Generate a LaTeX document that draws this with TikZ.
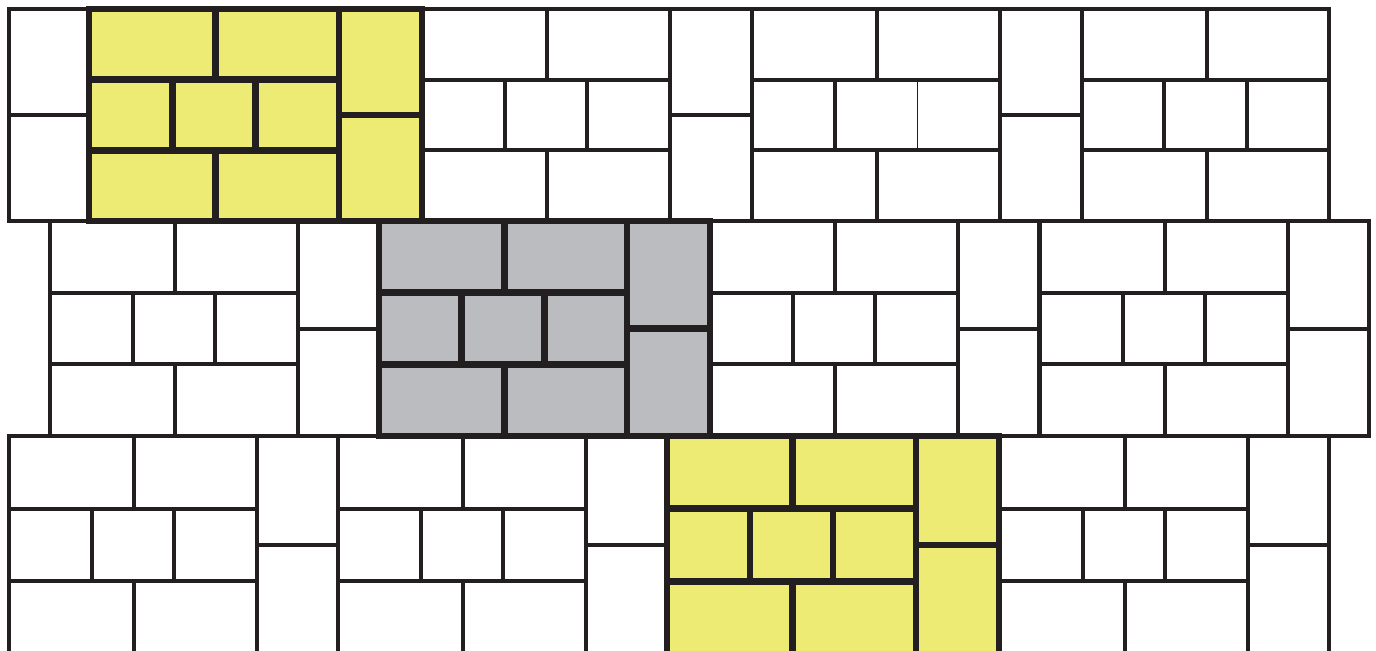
\documentclass[tikz,border=0pt]{standalone}
\usepackage{tikz}
\definecolor{brickline}{HTML}{231F20}
\definecolor{brickyellow}{HTML}{EDEB74}
\definecolor{brickgray}{HTML}{BBBCC0}

% three-course block: x left, x right, y top, y bottom ([#1] = style of last middle joint)
\newcommand{\brickblock}[5][]{%
  \draw (#2,#4) rectangle (#3,#5);
  \draw (#2,{#4+(#5-#4)/3}) -- (#3,{#4+(#5-#4)/3});
  \draw (#2,{#4+2*(#5-#4)/3}) -- (#3,{#4+2*(#5-#4)/3});
  \draw ({#2+0.505*(#3-#2)},#4) -- ({#2+0.505*(#3-#2)},{#4+(#5-#4)/3});
  \draw ({#2+0.505*(#3-#2)},{#4+2*(#5-#4)/3}) -- ({#2+0.505*(#3-#2)},#5);
  \draw ({#2+(#3-#2)/3},{#4+(#5-#4)/3}) -- ({#2+(#3-#2)/3},{#4+2*(#5-#4)/3});
  \draw[#1] ({#2+2*(#3-#2)/3},{#4+(#5-#4)/3}) -- ({#2+2*(#3-#2)/3},{#4+2*(#5-#4)/3});
}
% two upright bricks
\newcommand{\brickcol}[4]{%
  \draw (#1,#3) rectangle (#2,#4);
  \draw (#1,{(#3+#4)/2}) -- (#2,{(#3+#4)/2});
}

\begin{document}
\begin{tikzpicture}[x=0.02cm,y=-0.02cm,line width=0.08cm,color=brickline,
  hilite/.style={line width=0.133cm},
  thinjoint/.style={line width=0.02cm}]
\useasboundingbox (0,0) rectangle (1376,650);
\fill[white] (0,0) rectangle (1376,650);
\clip (0,0) rectangle (1376,650);

% row 1
\brickcol{9}{89}{9}{221}
\brickblock{422}{670}{9}{221}
\brickcol{670}{752}{9}{221}
\brickblock[thinjoint]{752}{1000}{9}{221}
\brickcol{1000}{1082}{9}{221}
\brickblock{1082}{1329}{9}{221}

% row 2
\foreach \a in {50,710,1040} {
  \brickblock{\a}{\a+248}{221}{436}
  \brickcol{\a+248}{\a+329}{221}{436}
}

% row 3
\foreach \a in {9,338,1000} {
  \brickblock{\a}{\a+248}{436}{654}
  \brickcol{\a+248}{\a+329}{436}{654}
}

% marked units
\fill[brickyellow] (89,9) rectangle (422,221);
\fill[brickgray] (379,221) rectangle (710,436);
\fill[brickyellow] (667,436) rectangle (999,654);
\begin{scope}[hilite]
  \brickblock{89}{339}{9}{221}
  \brickcol{339}{422}{9}{221}
  \brickblock{379}{627}{221}{436}
  \brickcol{627}{710}{221}{436}
  \brickblock{667}{916}{436}{654}
  \brickcol{916}{999}{436}{654}
\end{scope}
\end{tikzpicture}
\end{document}
